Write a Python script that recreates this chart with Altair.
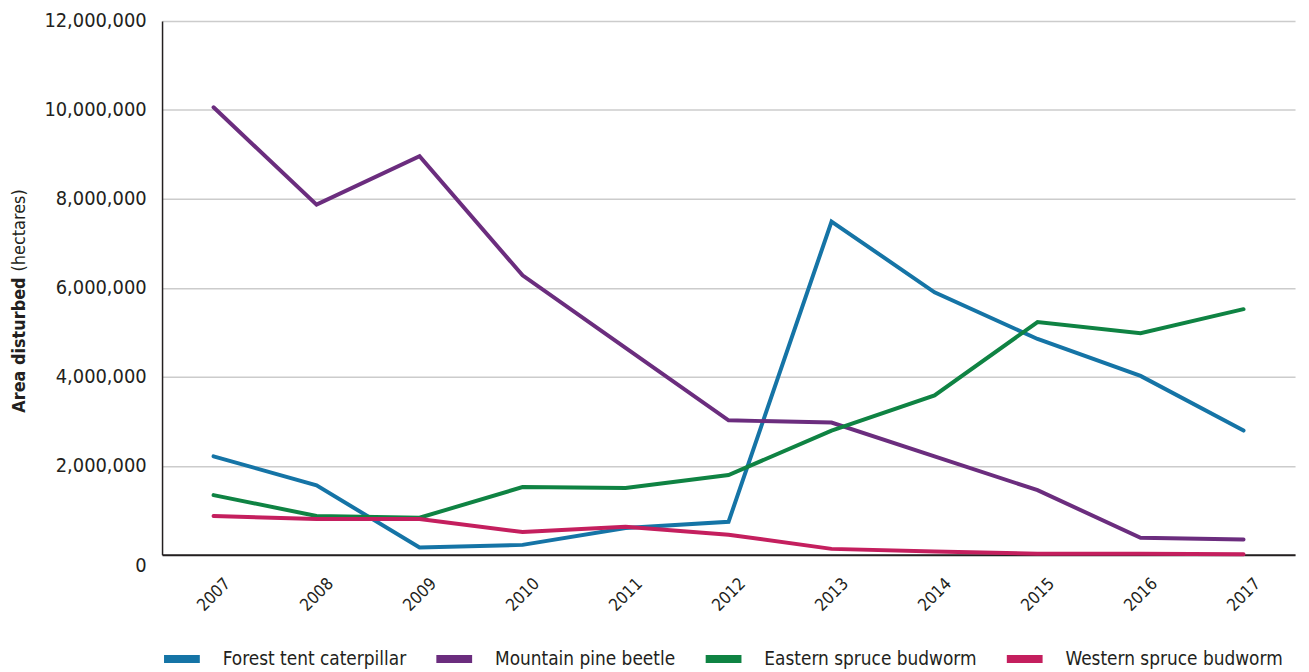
import altair as alt
import pandas as pd

years = [str(y) for y in range(2007, 2018)]
series_names = ["Forest tent caterpillar", "Mountain pine beetle",
                "Eastern spruce budworm", "Western spruce budworm"]
series_colors = ["#1574a6", "#6b2d7e", "#0f8343", "#c41f5e"]

forest_tent = [2210000, 1560000, 160000, 220000, 600000, 740000,
               7490000, 5900000, 4850000, 4020000, 2790000]
mountain_pine = [10060000, 7870000, 8960000, 6280000, 4650000, 3020000,
                 2970000, 2210000, 1450000, 380000, 340000]
eastern_spruce = [1340000, 870000, 830000, 1520000, 1500000, 1790000,
                  2790000, 3580000, 5230000, 4980000, 5520000]
western_spruce = [870000, 800000, 800000, 510000, 630000, 450000,
                  130000, 70000, 20000, 20000, 10000]

y_ticks = [0, 2000000, 4000000, 6000000, 8000000, 10000000, 12000000]

rows = []
for name, vals in zip(series_names, [forest_tent, mountain_pine, eastern_spruce, western_spruce]):
    for yr, v in zip(years, vals):
        rows.append({"year": yr, "insect": name, "area": v})
df = pd.DataFrame(rows)

FONT = "Liberation Sans Narrow, DejaVu Sans Condensed, Roboto, sans-serif"
TXT = "#231f20"

lines = alt.Chart(df).mark_line(strokeWidth=4, strokeCap="round").encode(
    x=alt.X("year:O", scale=alt.Scale(type="point", padding=0.5),
            axis=alt.Axis(title=None, labelAngle=-45, labelAlign="center",
                          labelBaseline="middle", labelPadding=40, ticks=False,
                          domainColor=TXT, domainWidth=2, labelFontSize=17,
                          labelColor=TXT, grid=False, labelFont=FONT)),
    y=alt.Y("area:Q", scale=alt.Scale(domain=[0, 12000000]),
            axis=alt.Axis(title=None, values=y_ticks, format=",d", ticks=False,
                          gridColor="#cccccc", gridWidth=1.5, domainColor=TXT,
                          domainWidth=1.5, labelPadding=16, labelFontSize=20,
                          labelColor=TXT, labelFont=FONT,
                          labelOffset={"condition": {"test": "datum.value === 0", "value": 11}, "value": 0})),
    color=alt.Color("insect:N", scale=alt.Scale(domain=series_names, range=series_colors),
                    legend=alt.Legend(title=None, orient="none", legendX=-2, legendY=620,
                                      direction="horizontal", columns=4,
                                      symbolType="stroke", symbolStrokeWidth=8,
                                      symbolSize=1296, labelFontSize=19,
                                      labelFont=FONT, labelColor=TXT,
                                      labelOffset=19, columnPadding=14,
                                      labelLimit=400)),
)

t1 = alt.Chart(pd.DataFrame({"t": ["Area disturbed"]})).mark_text(
    angle=270, align="right", baseline="middle", fontSize=18, fontWeight="bold",
    font=FONT, color=TXT
).encode(text="t:N", x=alt.value(-143), y=alt.value(258))

t2 = alt.Chart(pd.DataFrame({"t": ["(hectares)"]})).mark_text(
    angle=270, align="left", baseline="middle", fontSize=18,
    font=FONT, color=TXT
).encode(text="t:N", x=alt.value(-143), y=alt.value(252))

chart = alt.layer(lines, t1, t2).properties(
    width=1140, height=537,
    padding={"left": 155, "top": 11, "right": 6, "bottom": 116},
    autosize="none",
).configure_view(stroke=None)

chart.save("out.html", embed_options={"renderer": "svg", "actions": False})
